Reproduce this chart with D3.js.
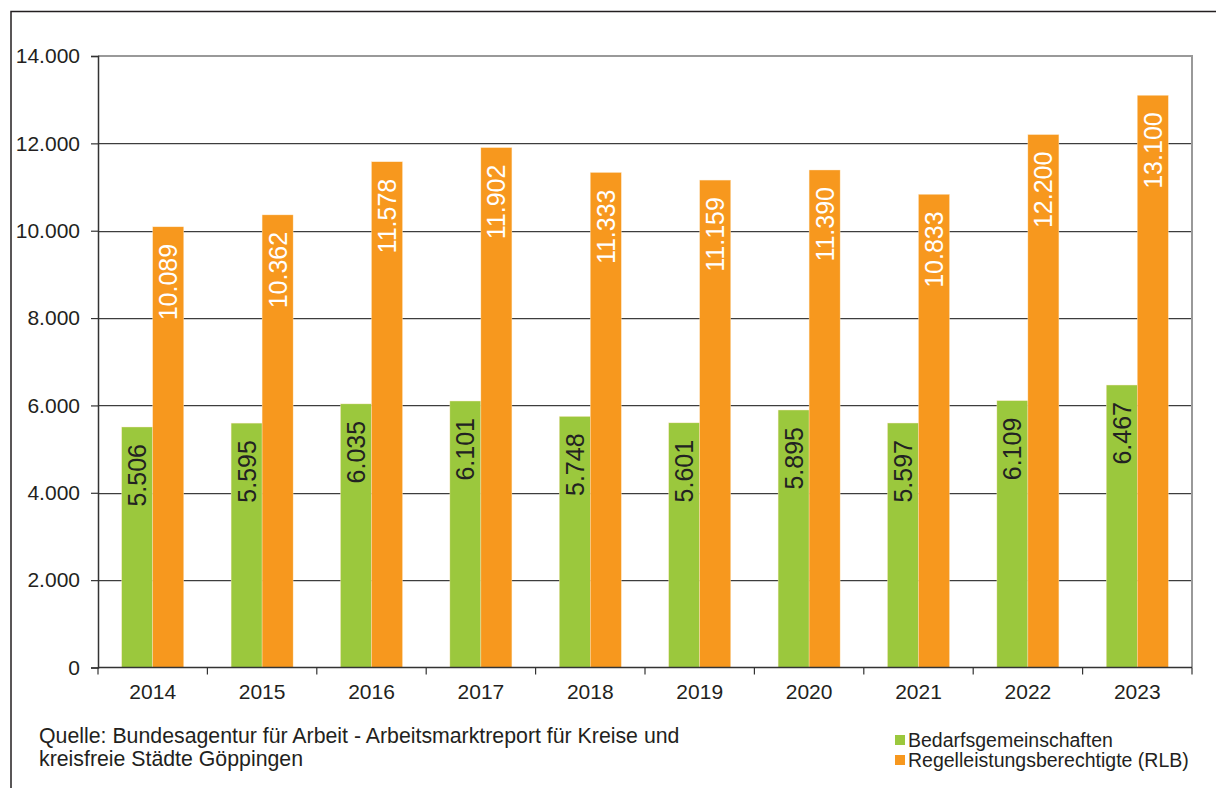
<!DOCTYPE html>
<html><head><meta charset="utf-8">
<script src="https://cdn.jsdelivr.net/npm/d3@7"></script>
<style>body{margin:0;background:#fff}svg{display:block}text{font-family:"Liberation Sans",Arial,sans-serif}</style>
</head><body><svg id="c" width="1216" height="788"></svg>
<script>
const years = ["2014","2015","2016","2017","2018","2019","2020","2021","2022","2023"];
const bedarfsgemeinschaften = [5506,5595,6035,6101,5748,5601,5895,5597,6109,6467];
const regelleistungsberechtigte = [10089,10362,11578,11902,11333,11159,11390,10833,12200,13100];
const seriesNames = ["Bedarfsgemeinschaften","Regelleistungsberechtigte (RLB)"];
const yTicks = [0,2000,4000,6000,8000,10000,12000,14000];
const sourceLines = ["Quelle: Bundesagentur für Arbeit - Arbeitsmarktreport für Kreise und","kreisfreie Städte Göppingen"];

const colors = ["#9bc83d","#f7981e"];
const labelColors = ["#222","#fff"];
const loc = d3.formatLocale({decimal:",",thousands:".",grouping:[3],currency:["","€"]});
const fmt = loc.format(",d");

const svg = d3.select("#c");
const L=98,R=1192,T=56,B=667.5;
const x = d3.scaleBand().domain(years).range([L,R]).padding(0);
const y = d3.scaleLinear().domain([0,14000]).range([B,T]);
const bw = 31;

// outer frame
svg.append("path").attr("d","M11,788V11.5H1216").attr("fill","none").attr("stroke","#231f20").attr("stroke-width",1.5);

// gridlines
const g = svg.append("g");
yTicks.filter(v=>v>0 && v<14000).forEach(v=>{
  g.append("line").attr("x1",L).attr("x2",R).attr("y1",Math.round(y(v))+1.5).attr("y2",Math.round(y(v))+1.5).attr("stroke","#d0d0d0").attr("stroke-width",1);
  g.append("line").attr("x1",L).attr("x2",R).attr("y1",Math.round(y(v))+0.5).attr("y2",Math.round(y(v))+0.5).attr("stroke","#3d3d3d").attr("stroke-width",1);
});
// top and right border
svg.append("path").attr("d",`M${L},${y(14000)}H${R}V${B}`).attr("fill","none").attr("stroke","#999").attr("stroke-width",2);

// bars
const data = [bedarfsgemeinschaften, regelleistungsberechtigte];
data.forEach((arr,si)=>{
  const gg = svg.append("g");
  gg.selectAll("rect").data(arr).join("rect")
    .attr("x",(d,i)=>x(years[i])+x.bandwidth()/2 - bw + si*bw)
    .attr("y",d=>y(d))
    .attr("width",bw)
    .attr("height",d=>B-y(d))
    .attr("fill",colors[si])
    .attr("stroke","#fde6c4").attr("stroke-width",0.4);
  gg.selectAll("text").data(arr).join("text")
    .attr("transform",(d,i)=>`translate(${x(years[i])+x.bandwidth()/2 - bw + si*bw + bw/2 + 9},${y(d)+17}) rotate(-90)`)
    .attr("text-anchor","end")
    .attr("font-size",25)
    .attr("fill",labelColors[si])
    .text(d=>fmt(d));
});

// y axis
const ya = svg.append("g").attr("transform",`translate(${L},0)`)
  .call(d3.axisLeft(y).tickValues(yTicks).tickFormat(d=>fmt(d)).tickSize(7).tickPadding(11));
ya.select(".domain").attr("stroke","#333").attr("stroke-width",1.5);
ya.selectAll(".tick line").attr("stroke","#333").attr("stroke-width",1.2);
ya.selectAll(".tick text").attr("font-size",21).attr("fill","#231f20").attr("font-family","Liberation Sans, Arial, sans-serif");

// x axis
const xa = svg.append("g").attr("transform",`translate(0,${B})`)
  .call(d3.axisBottom(x).tickSize(0).tickPadding(17));
xa.select(".domain").remove();
xa.append("line").attr("x1",L).attr("x2",R).attr("stroke","#333").attr("stroke-width",1.5);
xa.selectAll(".tick text").attr("font-size",21).attr("fill","#231f20").attr("font-family","Liberation Sans, Arial, sans-serif");
const edges = years.map(d=>x(d)).concat([R]);
xa.selectAll(".edge").data(edges).join("line").attr("class","edge")
  .attr("x1",d=>d).attr("x2",d=>d).attr("y1",0).attr("y2",7).attr("stroke","#333").attr("stroke-width",1.2);

// source
svg.append("text").attr("x",39).attr("y",743).attr("font-size",21.3).attr("fill","#231f20")
  .selectAll("tspan").data(sourceLines).join("tspan").attr("x",39).attr("dy",(d,i)=>i?23:0).text(d=>d);

// legend
const lg = svg.append("g");
seriesNames.forEach((n,i)=>{
  lg.append("rect").attr("x",895).attr("y",735+i*20).attr("width",10).attr("height",10).attr("fill",colors[i]);
  lg.append("text").attr("x",908).attr("y",746.5+i*20).attr("font-size",19.5).attr("fill","#231f20").text(n);
});
</script></body></html>
